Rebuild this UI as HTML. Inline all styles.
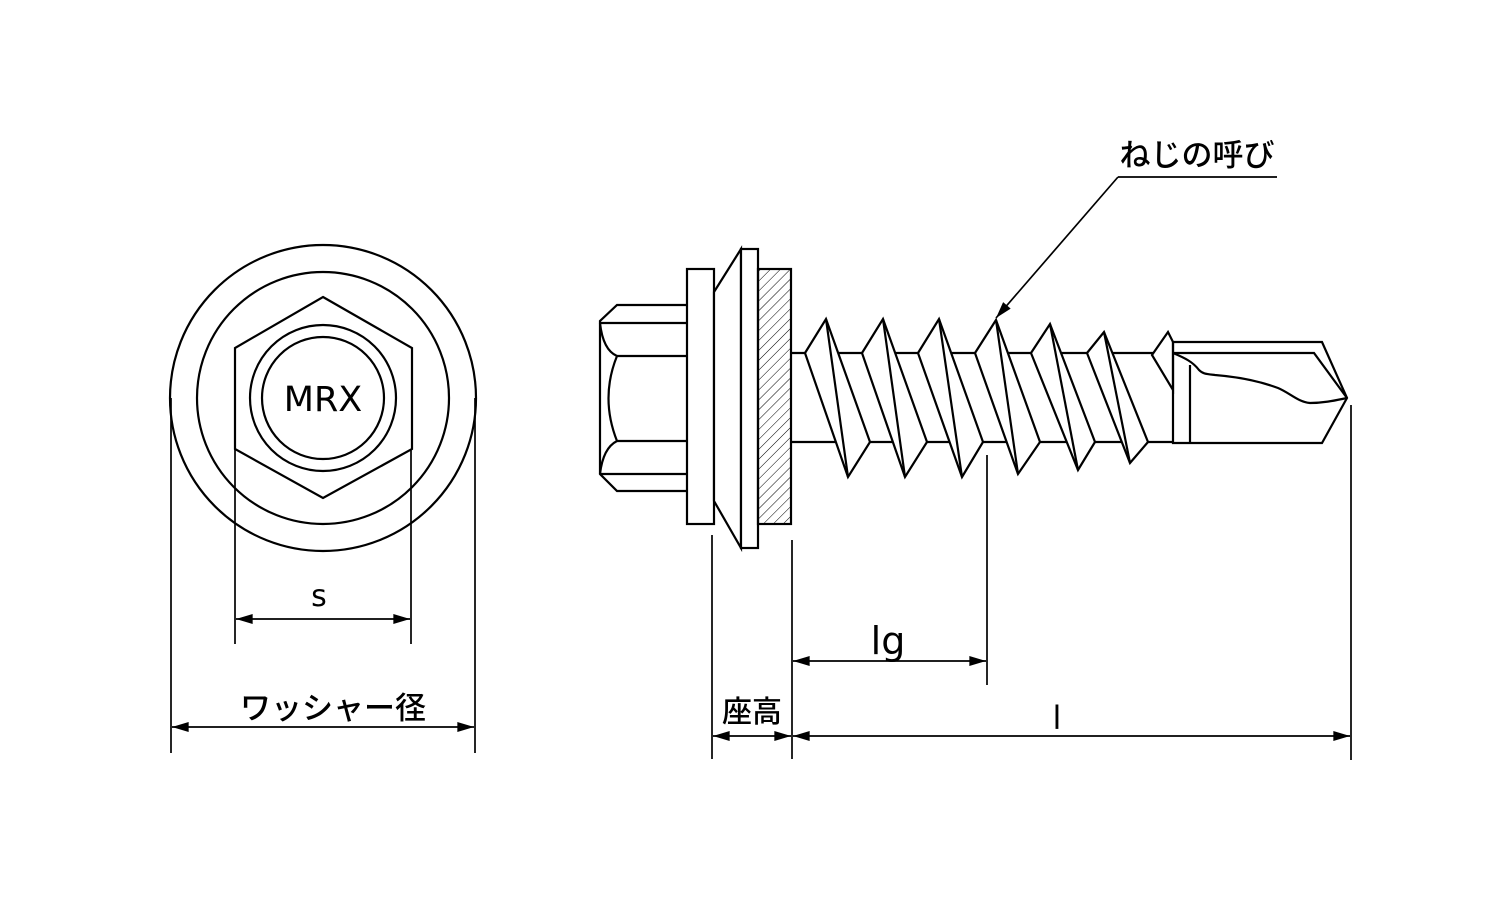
<!DOCTYPE html>
<html><head><meta charset="utf-8"><style>
html,body{margin:0;padding:0;background:#fff;}
svg{display:block}
text{font-family:"DejaVu Sans","Noto Sans CJK JP",sans-serif;fill:#000}
.j{font-family:"Noto Sans CJK JP",sans-serif;font-weight:500}
</style></head><body>
<svg width="1500" height="900" viewBox="0 0 1500 900" xmlns="http://www.w3.org/2000/svg">
<defs>
<pattern id="h" width="7" height="7" patternUnits="userSpaceOnUse" patternTransform="rotate(45)">
<line x1="0" y1="0" x2="0" y2="7" stroke="#000" stroke-width="1"/></pattern>
<marker id="a" viewBox="0 0 10 6" refX="10" refY="3" markerWidth="18" markerHeight="10" markerUnits="userSpaceOnUse" orient="auto-start-reverse"><path d="M0,0 L10,3 L0,6z" fill="#000"/></marker>
</defs>
<g fill="none" stroke="#000" stroke-width="2.2">
<circle cx="323" cy="398" r="153"/>
<circle cx="323" cy="398" r="126"/>
<polygon points="323,297 412,348 412,449 323,498 235,449 235,348" fill="#fff"/>
<circle cx="323" cy="398" r="73"/>
<circle cx="323" cy="398" r="61"/>
<g stroke-width="1.7">
<line x1="171" y1="398" x2="171" y2="753"/><line x1="475" y1="398" x2="475" y2="753"/>
<line x1="235" y1="449" x2="235" y2="644"/><line x1="411" y1="449" x2="411" y2="644"/>
<line x1="236" y1="619" x2="410" y2="619" marker-start="url(#a)" marker-end="url(#a)"/>
<line x1="172" y1="727" x2="474" y2="727" marker-start="url(#a)" marker-end="url(#a)"/>
</g>
<line x1="791" y1="353" x2="1173" y2="353"/>
<line x1="791" y1="442" x2="1173" y2="442"/>
<g fill="#fff" stroke-linejoin="miter">
<polygon points="805,353 826,319 870,442 848,477"/><line x1="826" y1="319" x2="848" y2="477"/>
<polygon points="862,353 883,319 927,442 905,477"/><line x1="883" y1="319" x2="905" y2="477"/>
<polygon points="918,353 939,319 983,442 962,477"/><line x1="939" y1="319" x2="962" y2="477"/>
<polygon points="975,353 996,320 1040,442 1018,474"/><line x1="996" y1="320" x2="1018" y2="474"/>
<polygon points="1031,353 1050,324 1095,442 1078,470"/><line x1="1050" y1="324" x2="1078" y2="470"/>
<polygon points="1087,353 1104,332 1148,442 1130,463"/><line x1="1104" y1="332" x2="1130" y2="463"/>
<polygon points="1152,355 1168,332 1173,342 1173,390"/>
</g>
<polyline points="1173,342 1322,342 1347,398 1322,443 1173,443 1173,342"/>
<polyline points="1173,353 1314,353 1347,398"/>
<line x1="1190" y1="365" x2="1190" y2="443"/>
<path d="M1173,353 C1185,358 1193,362 1199,370 C1203,374 1206,374 1215,375 C1240,377 1262,382 1278,388 C1290,393 1298,402 1310,403 C1325,403 1337,400 1347,398"/>
<path d="M687,305 L617,305 L600,321 L600,474 L617,491 L687,491"/>
<line x1="600" y1="323" x2="687" y2="323"/><line x1="600" y1="474" x2="687" y2="474"/>
<line x1="617" y1="356" x2="687" y2="356"/><line x1="617" y1="441" x2="687" y2="441"/>
<path d="M600,323 Q603,350 617,356 Q600,398 617,441 Q603,448 600,474"/>
<rect x="687" y="269" width="27" height="255" fill="#fff"/>
<polygon points="714,292 741,249 741,548 714,501" fill="#fff"/>
<rect x="741" y="249" width="17" height="299" fill="#fff"/>
<rect x="758" y="269" width="33" height="255" fill="url(#h)"/>
<g stroke-width="1.7">
<line x1="712" y1="535" x2="712" y2="759"/>
<line x1="792" y1="540" x2="792" y2="759"/>
<line x1="987" y1="455" x2="987" y2="685"/>
<line x1="1351" y1="405" x2="1351" y2="760"/>
<line x1="793" y1="661" x2="986" y2="661" marker-start="url(#a)" marker-end="url(#a)"/>
<line x1="713" y1="736" x2="791" y2="736" marker-start="url(#a)" marker-end="url(#a)"/>
<line x1="793" y1="736" x2="1350" y2="736" marker-start="url(#a)" marker-end="url(#a)"/>
<line x1="1118" y1="177" x2="1277" y2="177"/>
<line x1="1118" y1="177" x2="996" y2="318" marker-end="url(#a)"/>
</g>
</g>
<text x="323" y="411" font-size="35" text-anchor="middle">MRX</text>
<text x="319" y="606" font-size="30" text-anchor="middle">s</text>
<text class="j" x="333" y="719" font-size="31" text-anchor="middle">ワッシャー径</text>
<text x="888" y="654" font-size="38" text-anchor="middle">lg</text>
<text class="j" x="752" y="722" font-size="30" text-anchor="middle">座高</text>
<text x="1057" y="729" font-size="32" text-anchor="middle">l</text>
<text class="j" x="1197" y="166" font-size="31" text-anchor="middle">ねじの呼び</text>
</svg>
</body></html>
